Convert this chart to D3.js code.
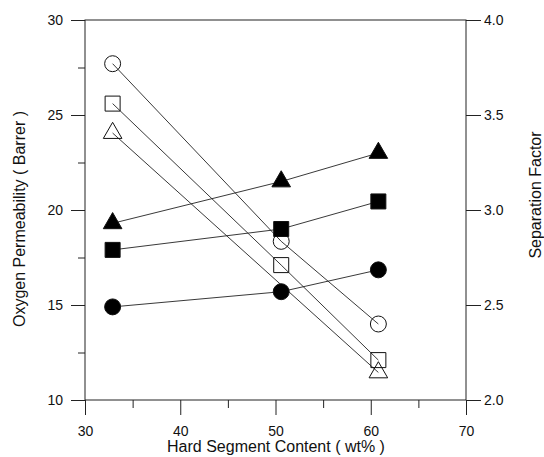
<!DOCTYPE html>
<meta charset="utf-8">
<body style="margin:0;background:#fff">
<svg id="chart" width="544" height="457"></svg>
</body>
<style>
text { font-family: "Liberation Sans", Arial, sans-serif; fill: #111; }
.axis path, .axis line { stroke: #222; stroke-width: 1; }
</style>
<script src="https://d3js.org/d3.v7.min.js"></script>
<script>
// data
var xVals = [32.9, 50.6, 60.8];
// oxygen permeability (left axis, open markers); the middle triangle is not drawn
var permCircle = [27.7, 18.35, 14.0];
var permSquare = [25.6, 17.1, 12.1];
var permTriangle = [24.05, null, 11.45];
// separation factor (right axis, filled markers)
var sepCircle = [2.49, 2.57, 2.685];
var sepSquare = [2.79, 2.90, 3.045];
var sepTriangle = [2.93, 3.15, 3.30];

var xTicks = [30, 40, 50, 60, 70];
var xMinor = [35, 45, 55, 65];
var yLeftTicks = [10, 15, 20, 25, 30];
var yLeftMinor = [12.5, 17.5, 22.5, 27.5];
var yRightTicks = [2.0, 2.5, 3.0, 3.5, 4.0];

var svg = d3.select("#chart");
var m = {left: 85, right: 466, top: 20, bottom: 400};

var x = d3.scaleLinear().domain([30, 70]).range([m.left, m.right]);
var yL = d3.scaleLinear().domain([10, 30]).range([m.bottom, m.top]);
var yR = d3.scaleLinear().domain([2, 4]).range([m.bottom, m.top]);

// frame
svg.append("g").attr("class", "axis")
  .attr("transform", "translate(0," + m.bottom + ")")
  .call(d3.axisBottom(x).tickValues(xTicks).tickSize(15).tickPadding(11).tickFormat(d3.format("d")))
  .call(g => g.select(".domain").remove());
svg.append("g").attr("class", "axis")
  .attr("transform", "translate(0," + m.bottom + ")")
  .call(d3.axisBottom(x).tickValues(xMinor).tickSize(8).tickFormat(""))
  .call(g => g.select(".domain").remove());

svg.append("g").attr("class", "axis")
  .attr("transform", "translate(" + m.left + ",0)")
  .call(d3.axisLeft(yL).tickValues(yLeftTicks).tickSize(14).tickPadding(8).tickFormat(d3.format("d")))
  .call(g => g.select(".domain").remove());
svg.append("g").attr("class", "axis")
  .attr("transform", "translate(" + m.left + ",0)")
  .call(d3.axisLeft(yL).tickValues(yLeftMinor).tickSize(7).tickFormat(""))
  .call(g => g.select(".domain").remove());

svg.append("g").attr("class", "axis")
  .attr("transform", "translate(" + m.right + ",0)")
  .call(d3.axisRight(yR).tickValues(yRightTicks).tickSize(15).tickPadding(3).tickFormat(d3.format(".1f")))
  .call(g => g.select(".domain").remove());

svg.selectAll(".axis text").style("font-size", "14px");

svg.append("rect")
  .attr("x", m.left).attr("y", m.top)
  .attr("width", m.right - m.left).attr("height", m.bottom - m.top)
  .attr("fill", "none").attr("stroke", "#222");

// axis titles
svg.append("text")
  .attr("x", 276).attr("y", 452)
  .attr("text-anchor", "middle").style("font-size", "16px")
  .text("Hard Segment Content ( wt% )");
svg.append("text")
  .attr("transform", "translate(25,219) rotate(-90)")
  .attr("text-anchor", "middle").style("font-size", "16px")
  .text("Oxygen Permeability ( Barrer )");
svg.append("text")
  .attr("transform", "translate(541,195) rotate(-90)")
  .attr("text-anchor", "middle").style("font-size", "16px")
  .text("Separation Factor");

// series
var series = [
  {vals: permTriangle, y: yL, shape: d3.symbolTriangle, size: 150, filled: false},
  {vals: permSquare, y: yL, shape: d3.symbolSquare, size: 225, filled: false},
  {vals: permCircle, y: yL, shape: d3.symbolCircle, size: 200, filled: false},
  {vals: sepCircle, y: yR, shape: d3.symbolCircle, size: 200, filled: true},
  {vals: sepSquare, y: yR, shape: d3.symbolSquare, size: 225, filled: true},
  {vals: sepTriangle, y: yR, shape: d3.symbolTriangle, size: 150, filled: true}
];

var line = d3.line();

function points(s) {
  return xVals.map((v, i) => s.vals[i] == null ? null : [x(v), s.y(s.vals[i])])
    .filter(p => p);
}

series.forEach(function(s) {
  svg.append("path")
    .attr("d", line(points(s)))
    .attr("fill", "none")
    .attr("stroke", "#222")
    .attr("stroke-width", 0.9);
});

series.forEach(function(s) {
  svg.append("g").selectAll("path")
    .data(points(s))
    .enter().append("path")
      .attr("transform", d => "translate(" + d[0] + "," + d[1] + ")")
      .attr("d", d3.symbol().type(s.shape).size(s.size))
      .attr("fill", s.filled ? "#000" : "none")
      .attr("stroke", "#111")
      .attr("stroke-width", 1);
});
</script>
